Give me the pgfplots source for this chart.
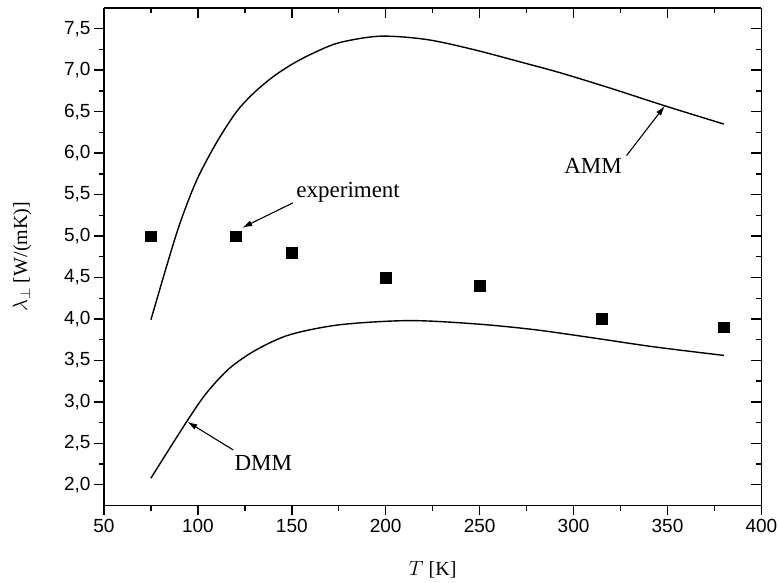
\documentclass[border=0pt]{standalone}
\usepackage{fontspec}
\setmainfont{Liberation Serif}
\setsansfont{Liberation Sans}
\usepackage{pgfplots}
\pgfplotsset{compat=1.18}
\usetikzlibrary{arrows.meta}
\begin{document}
\begin{tikzpicture}
\pgfplotsset{
  common/.style={
    scale only axis, width=657.7pt, height=497.7pt,
    xmin=50, xmax=400, ymin=1.75, ymax=7.75,
    xtick={50,100,...,400}, ytick={2,2.5,...,7.5},
    minor x tick num=1, minor y tick num=1,
    axis line style={line width=1.7pt,-},
    major tick style={line width=1.4pt,black},
    minor tick style={line width=1.4pt,black},
    major tick length=10pt, minor tick length=5pt,
    clip=false,
  }
}
\begin{axis}[common,
  axis x line*=bottom, axis y line*=left,
  tick align=outside,
  /pgf/number format/assume math mode=true,
  ticklabel style={font=\fontsize{19}{19}\selectfont\sffamily},
  yticklabel style={/pgf/number format/.cd, fixed, fixed zerofill, precision=1, use comma},
  xticklabel style={/pgf/number format/.cd, fixed, precision=0},
  xlabel={\fontsize{20}{20}\selectfont $T$ [K]},
  ylabel={\fontsize{20}{20}\selectfont $\lambda_\perp$ [W/(mK)]},
  xlabel style={at={(axis description cs:0.5,-0.1286)}, anchor=center},
  ylabel style={at={(axis description cs:-0.1247,0.5)}, anchor=center, rotate=0},
]
% AMM
\addplot[black, line width=1.4pt, smooth, tension=0.5] coordinates {
(75,3.99) (83.4,4.64) (90.4,5.15) (99.3,5.67) (110,6.13) (120.6,6.50) (130,6.73)
(140,6.92) (150,7.07) (160,7.19) (175,7.33) (197,7.41) (221.7,7.37) (246.5,7.25)
(273.2,7.09) (292.7,6.97) (320,6.78) (348.6,6.57) (380,6.35)};
% DMM
\addplot[black, line width=1.4pt, smooth, tension=0.5] coordinates {
(75,2.08) (94,2.76) (104.7,3.11) (117.1,3.41) (131.3,3.63) (149,3.81) (175.6,3.93)
(212.3,3.98) (248,3.94) (279.4,3.87) (310.8,3.77) (342.3,3.665) (380,3.56)};
% experiment
\addplot[only marks, mark=square*, mark size=5.3pt, black] coordinates {
(75,5.0) (120,5.0) (150,4.8) (200,4.5) (250,4.4) (315,4.0) (380,3.9)};
% annotations
\draw[line width=1.1pt, -{Latex[length=10pt,width=6pt]}] (axis cs:150.6,5.40) -- (axis cs:123.6,5.10);
\node[font=\fontsize{23}{23}\selectfont] at (axis cs:180,5.53) {experiment};
\draw[line width=1.1pt, -{Latex[length=10pt,width=6pt]}] (axis cs:328.2,5.97) -- (axis cs:348.6,6.57);
\node[font=\fontsize{23}{23}\selectfont] at (axis cs:310.4,5.84) {AMM};
\draw[line width=1.1pt, -{Latex[length=10pt,width=6pt]}] (axis cs:118.8,2.42) -- (axis cs:94.4,2.76);
\node[font=\fontsize{23}{23}\selectfont] at (axis cs:134.8,2.26) {DMM};
\end{axis}
\begin{axis}[common,
  axis x line*=top, axis y line*=right,
  tick align=inside,
  xticklabels={}, yticklabels={},
]
\addplot[draw=none] coordinates {(100,3)};
\end{axis}
\pgfresetboundingbox
\path[use as bounding box] (-104pt,-77pt) rectangle (675.3pt,505.7pt);
\end{tikzpicture}
\end{document}
